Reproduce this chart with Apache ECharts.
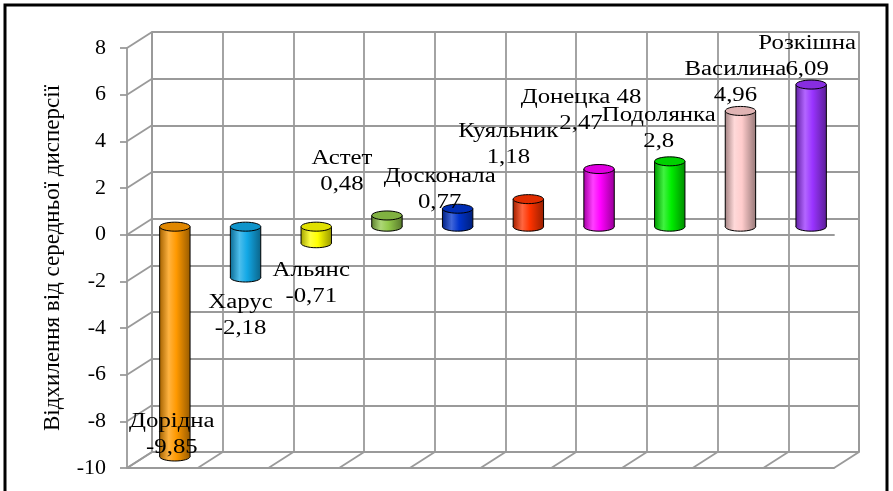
<!DOCTYPE html>
<html>
<head>
<meta charset="utf-8">
<script src="https://cdn.jsdelivr.net/npm/echarts@6/dist/echarts.min.js"></script>
<style>
html, body { margin: 0; padding: 0; background: #fff; }
#main { width: 893px; height: 491px; }
</style>
</head>
<body>
<div id="main"></div>
<script>
// дані
const categories = ['Дорідна', 'Харус', 'Альянс', 'Астет', 'Досконала', 'Куяльник', 'Донецка 48', 'Подолянка', 'Василина', 'Розкішна']
const values = [-9.85, -2.18, -0.71, 0.48, 0.77, 1.18, 2.47, 2.8, 4.96, 6.09]
const yTicks = [-10, -8, -6, -4, -2, 0, 2, 4, 6, 8]

// оформлення
const barColors = ['#ff9900', '#12a8e6', '#ffff00', '#92c94a', '#0033cc', '#ff3300', '#ff00ff', '#00ee00', '#ffcccc', '#9933ff']
// зсув підписів від кінця стовпчика, px
const labelShift = [[-3, -22], [-5, 38], [-5, 41], [-45, -44], [-18, -19], [-20, -54], [-18, -58], [-11, -33], [-5, -28], [-4, -28]]
const depth = [-25, 16]
const gridColor = '#9a9a9a'
const serif = 'Liberation Serif, "Times New Roman", serif'

function shade(hex, k) {
  const n = parseInt(hex.slice(1), 16)
  const rgb = [(n >> 16) & 255, (n >> 8) & 255, n & 255].map(c => {
    const v = k < 0 ? c * (1 + k) : c + (255 - c) * k
    return Math.max(0, Math.min(255, Math.round(v)))
  })
  return 'rgb(' + rgb.join(',') + ')'
}

const fmt = v => String(v).replace('.', ',')

const chart = echarts.init(document.getElementById('main'))

const option = {
  animation: false,
  graphic: [{
    type: 'rect',
    shape: { x: 5, y: 5, width: 882, height: 500 },
    style: { fill: 'none', stroke: '#000', lineWidth: 3 },
    z: 100
  }],
  grid: [
    { left: 152, top: 32, width: 707, height: 420 },   // задня стінка
    { left: 127, top: 48, width: 707, height: 420 },   // передня вісь
    { left: 139.5, top: 40, width: 707, height: 420 }  // стовпчики
  ],
  xAxis: [
    {
      gridIndex: 0, type: 'category', data: categories,
      axisLine: { show: false }, axisTick: { show: false }, axisLabel: { show: false },
      splitLine: { show: true, interval: 0, lineStyle: { color: gridColor, width: 1.8 } }
    },
    {
      gridIndex: 1, type: 'category', data: categories,
      axisLine: { show: true, onZero: true, lineStyle: { color: gridColor, width: 1.8 } },
      axisTick: { show: false }, axisLabel: { show: false }
    },
    {
      gridIndex: 1, type: 'category', data: categories, position: 'bottom',
      axisLine: { show: true, onZero: false, lineStyle: { color: gridColor, width: 1.8 } },
      axisTick: { show: false }, axisLabel: { show: false }
    },
    {
      gridIndex: 2, type: 'category', data: categories, show: false
    }
  ],
  yAxis: [
    {
      gridIndex: 0, type: 'value', min: -10, max: 8, interval: 2,
      axisLine: { show: true, lineStyle: { color: gridColor, width: 1.8 } },
      axisTick: { show: false }, axisLabel: { show: false },
      splitLine: { show: true, lineStyle: { color: gridColor, width: 1.8 } }
    },
    {
      gridIndex: 0, type: 'value', min: -10, max: 8, interval: 2, position: 'right',
      axisLine: { show: true, lineStyle: { color: gridColor, width: 1.8 } },
      axisTick: { show: false }, axisLabel: { show: false }, splitLine: { show: false }
    },
    {
      gridIndex: 1, type: 'value', min: -10, max: 8, interval: 2,
      name: 'Відхилення від середньої дисперсії',
      nameLocation: 'middle', nameGap: 63,
      nameTextStyle: { fontFamily: serif, fontSize: 23, color: '#000' },
      axisLine: { show: true, lineStyle: { color: gridColor, width: 1.8 } },
      axisTick: { show: true, length: 7, lineStyle: { color: gridColor, width: 1.8 } },
      axisLabel: { margin: 21, fontFamily: serif, fontSize: 22, color: '#000' },
      splitLine: { show: false }
    },
    {
      gridIndex: 2, type: 'value', min: -10, max: 8, interval: 2, show: false
    }
  ],
  series: [
    {
      // бічна стінка
      type: 'custom', xAxisIndex: 0, yAxisIndex: 0, silent: true,
      data: yTicks.map(t => [0, t]),
      renderItem(params, api) {
        const p = api.coord([0, api.value(1)])
        const bw = api.size([1, 0])[0]
        const x = p[0] - bw / 2
        return {
          type: 'line',
          shape: { x1: x, y1: p[1], x2: x + depth[0], y2: p[1] + depth[1] },
          style: { stroke: gridColor, lineWidth: 1.8 }
        }
      }
    },
    {
      // підлога
      type: 'custom', xAxisIndex: 0, yAxisIndex: 0, silent: true,
      data: categories.map((c, i) => [i, -10, -1]).concat([[categories.length - 1, -10, 1]]),
      renderItem(params, api) {
        const p = api.coord([api.value(0), api.value(1)])
        const bw = api.size([1, 0])[0]
        const x = p[0] + api.value(2) * bw / 2
        return {
          type: 'line',
          shape: { x1: x, y1: p[1], x2: x + depth[0], y2: p[1] + depth[1] },
          style: { stroke: gridColor, lineWidth: 1.8 }
        }
      }
    },
    {
      // циліндри
      type: 'custom', xAxisIndex: 3, yAxisIndex: 3, z: 5,
      data: values.map((v, i) => [i, v]),
      renderItem(params, api) {
        const i = api.value(0)
        const v = api.value(1)
        const pv = api.coord([i, v])
        const p0 = api.coord([i, 0])
        const bw = api.size([1, 0])[0]
        const w = bw * 0.43
        const rx = w / 2
        const ry = 4.5
        const cx = pv[0]
        const top = Math.min(pv[1], p0[1])
        const bot = Math.max(pv[1], p0[1])
        const col = barColors[i]
        const grad = new echarts.graphic.LinearGradient(0, 0, 1, 0, [
          { offset: 0, color: shade(col, -0.35) },
          { offset: 0.3, color: shade(col, 0.25) },
          { offset: 0.55, color: col },
          { offset: 1, color: shade(col, -0.4) }
        ])
        return {
          type: 'group',
          children: [
            { type: 'ellipse', shape: { cx: cx, cy: bot, rx: rx, ry: ry }, style: { fill: grad, stroke: '#000', lineWidth: 1 } },
            { type: 'rect', shape: { x: cx - rx, y: top, width: w, height: bot - top }, style: { fill: grad } },
            { type: 'line', shape: { x1: cx - rx, y1: top, x2: cx - rx, y2: bot }, style: { stroke: '#000', lineWidth: 1 } },
            { type: 'line', shape: { x1: cx + rx, y1: top, x2: cx + rx, y2: bot }, style: { stroke: '#000', lineWidth: 1 } },
            { type: 'ellipse', shape: { cx: cx, cy: top, rx: rx, ry: ry }, style: { fill: shade(col, -0.12), stroke: '#000', lineWidth: 1 } }
          ]
        }
      }
    },
    {
      // підписи
      type: 'custom', xAxisIndex: 3, yAxisIndex: 3, z: 10, silent: true,
      data: values.map((v, i) => [i, v]),
      renderItem(params, api) {
        const i = api.value(0)
        const v = api.value(1)
        const p = api.coord([i, v])
        return {
          type: 'text',
          x: p[0] + labelShift[i][0],
          y: p[1] + labelShift[i][1],
          scaleX: 1.24,
          style: {
            text: categories[i] + '\n' + fmt(v),
            fontFamily: serif,
            fontSize: 20,
            lineHeight: 26,
            fill: '#000',
            align: 'center',
            verticalAlign: 'middle'
          }
        }
      }
    }
  ]
}

chart.setOption(option)
</script>
</body>
</html>
